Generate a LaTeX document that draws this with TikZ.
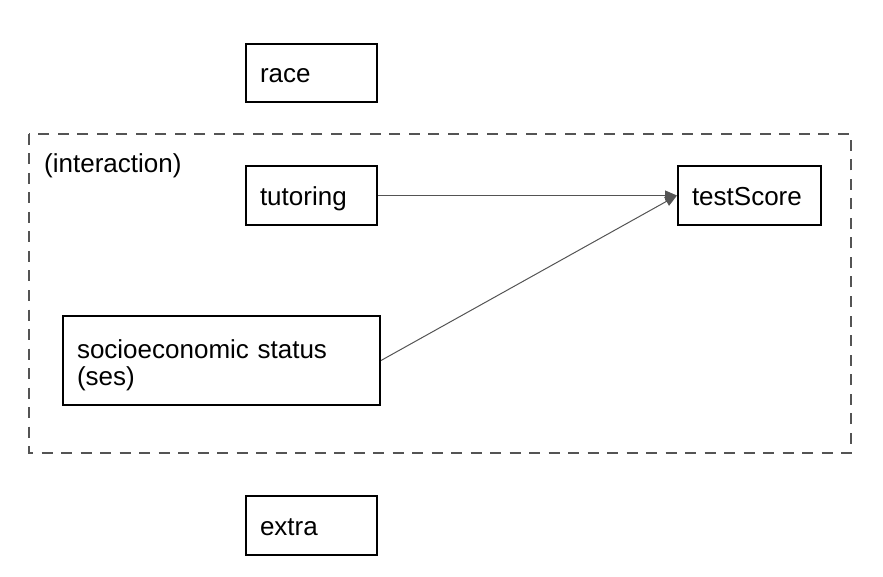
\documentclass[tikz,border=0pt]{standalone}
\usepackage{fontspec}
\setmainfont{Liberation Sans}
\usetikzlibrary{arrows.meta}
\begin{document}
\begin{tikzpicture}[x=1pt,y=-1pt,
  varbox/.style={draw=black, line width=2pt, fill=white, align=left,
    inner xsep=14pt, inner ysep=0pt, font=\fontsize{26}{27}\selectfont},
  onebox/.style={varbox, text height=20pt, text depth=0pt},
  edge/.style={draw=black!67, line width=1pt, -{Triangle[length=12pt,width=10pt]}},
  group/.style={draw=black!67, line width=2.5pt, dash pattern=on 11pt off 8.5pt}]
\useasboundingbox (0,0) rectangle (883,577);
\draw[group] (29,134) rectangle (851,453);
\node[font=\fontsize{26}{27}\selectfont, anchor=west, inner sep=0pt] (lab) at (44,166) {(interaction)};
\node[onebox, text width=103pt, minimum height=58pt] (race) at (311.5,73) {race};
\node[onebox, text width=103pt, minimum height=59pt] (tut) at (311.5,195.5) {tutoring};
\node[onebox, text width=115pt, minimum height=59pt] (ts) at (749.5,195.5) {testScore};
\node[varbox, text height=15pt, text depth=20pt, text width=289pt, minimum height=89pt] (ses) at (221.5,360.5) {socioeconomic status\\(ses)};
\node[onebox, text width=103pt, minimum height=59pt] (extra) at (311.5,525.5) {extra};
\draw[edge] (tut.east) -- (ts.west);
\draw[edge] (ses.east) -- (ts.west);
\end{tikzpicture}
\end{document}
